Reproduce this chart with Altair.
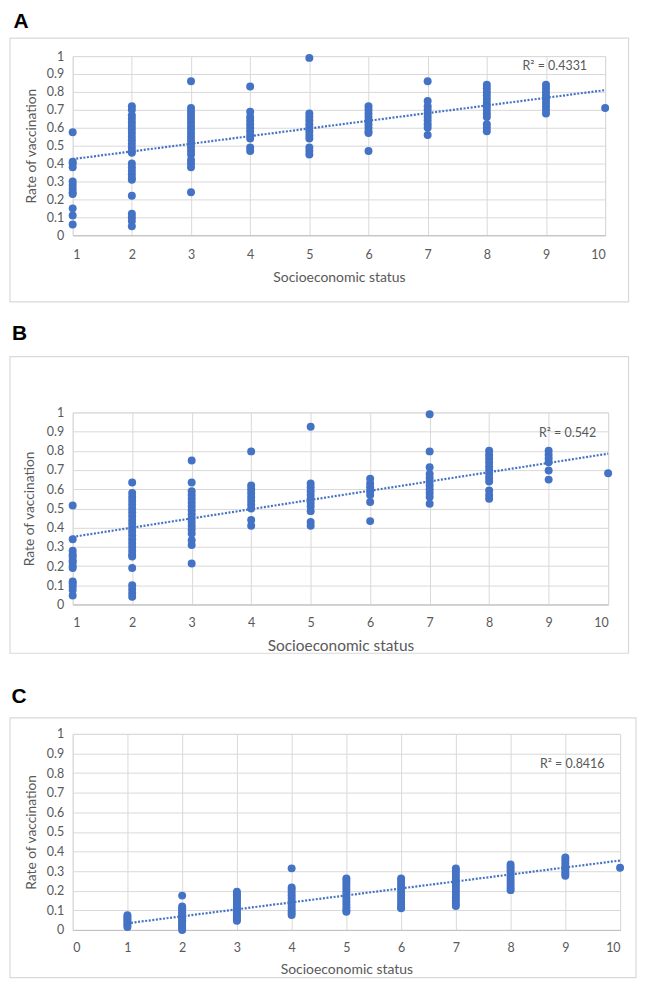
import altair as alt
import pandas as pd

# ---------------- data ----------------
y_ticks = [0, 0.1, 0.2, 0.3, 0.4, 0.5, 0.6, 0.7, 0.8, 0.9, 1]
x_ticks_ab = [1, 2, 3, 4, 5, 6, 7, 8, 9, 10]
x_ticks_c = [0, 1, 2, 3, 4, 5, 6, 7, 8, 9, 10]

a_rates = {
    1: [0.575, 0.41, 0.40, 0.38, 0.30, 0.28, 0.26, 0.24, 0.23, 0.15, 0.11, 0.06],
    2: [0.72, 0.70, 0.67, 0.65, 0.63, 0.61, 0.59, 0.57, 0.55, 0.53, 0.51, 0.49, 0.47,
        0.46, 0.40, 0.38, 0.36, 0.34, 0.32, 0.31, 0.22, 0.12, 0.10, 0.08, 0.05],
    3: [0.86, 0.71, 0.69, 0.67, 0.65, 0.63, 0.61, 0.59, 0.57, 0.55, 0.53, 0.51, 0.49,
        0.47, 0.45, 0.42, 0.40, 0.38, 0.24],
    4: [0.83, 0.69, 0.66, 0.64, 0.62, 0.60, 0.58, 0.56, 0.54, 0.49, 0.47],
    5: [0.99, 0.68, 0.66, 0.64, 0.62, 0.60, 0.58, 0.56, 0.54, 0.49, 0.47, 0.45],
    6: [0.72, 0.70, 0.68, 0.66, 0.64, 0.62, 0.60, 0.58, 0.57, 0.47],
    7: [0.86, 0.75, 0.72, 0.70, 0.68, 0.66, 0.64, 0.62, 0.60, 0.56],
    8: [0.84, 0.82, 0.80, 0.78, 0.76, 0.74, 0.72, 0.70, 0.68, 0.66, 0.62, 0.60, 0.58],
    9: [0.84, 0.82, 0.80, 0.78, 0.76, 0.74, 0.72, 0.70, 0.68],
    10: [0.71],
}
b_rates = {
    1: [0.515, 0.34, 0.28, 0.26, 0.25, 0.23, 0.22, 0.20, 0.19, 0.12, 0.11, 0.095, 0.075, 0.047],
    2: [0.635, 0.58, 0.56, 0.54, 0.52, 0.50, 0.48, 0.46, 0.44, 0.42, 0.40, 0.38, 0.36,
        0.34, 0.32, 0.30, 0.28, 0.26, 0.25, 0.19, 0.10, 0.08, 0.06, 0.04],
    3: [0.75, 0.635, 0.59, 0.57, 0.55, 0.53, 0.51, 0.49, 0.47, 0.45, 0.43, 0.41, 0.39,
        0.37, 0.335, 0.31, 0.213],
    4: [0.797, 0.62, 0.60, 0.58, 0.56, 0.54, 0.52, 0.50, 0.44, 0.41],
    5: [0.925, 0.63, 0.61, 0.59, 0.57, 0.55, 0.53, 0.51, 0.486, 0.43, 0.41],
    6: [0.654, 0.63, 0.61, 0.59, 0.57, 0.533, 0.434],
    7: [0.99, 0.797, 0.714, 0.68, 0.66, 0.64, 0.62, 0.60, 0.58, 0.56, 0.524],
    8: [0.80, 0.78, 0.76, 0.74, 0.72, 0.70, 0.68, 0.66, 0.64, 0.593, 0.57, 0.55],
    9: [0.80, 0.78, 0.76, 0.74, 0.697, 0.65],
    10: [0.683],
}
c_rates = {
    1: [0.075, 0.065, 0.055, 0.045, 0.035, 0.025, 0.015],
    2: [0.175, 0.12, 0.11, 0.10, 0.09, 0.08, 0.07, 0.06, 0.05, 0.04, 0.03, 0.02, 0.01, 0.0],
    3: [0.195, 0.185, 0.175, 0.165, 0.155, 0.145, 0.135, 0.125, 0.115, 0.105, 0.095,
        0.085, 0.075, 0.065, 0.055, 0.047],
    4: [0.314, 0.217, 0.205, 0.19, 0.175, 0.16, 0.145, 0.13, 0.115, 0.10, 0.088, 0.076],
    5: [0.263, 0.25, 0.235, 0.22, 0.205, 0.19, 0.175, 0.16, 0.145, 0.13, 0.115, 0.10, 0.093],
    6: [0.263, 0.25, 0.235, 0.22, 0.205, 0.19, 0.175, 0.16, 0.145, 0.13, 0.115, 0.11],
    7: [0.314, 0.30, 0.285, 0.27, 0.255, 0.24, 0.225, 0.21, 0.195, 0.18, 0.165, 0.15,
        0.135, 0.122],
    8: [0.334, 0.32, 0.305, 0.29, 0.275, 0.26, 0.245, 0.23, 0.215, 0.203],
    9: [0.37, 0.355, 0.34, 0.325, 0.31, 0.295, 0.285, 0.276],
    10: [0.317],
}

# linear trend lines (end points)
trend_ses = [1, 10]
a_trend = [0.425, 0.81]
b_trend = [0.352, 0.785]
c_trend = [0.034, 0.354]

r2_labels = ["R\u00b2 = 0.4331", "R\u00b2 = 0.542", "R\u00b2 = 0.8416"]
panel_letters = ["A", "B", "C"]

# ---------------- styling ----------------
BLUE = "#4472C4"
GRID = "#d9d9d9"
TEXT = "#595959"
FONT = "Lato"


def to_frame(rates):
    ses, rate = [], []
    for k, vals in rates.items():
        for v in vals:
            ses.append(k)
            rate.append(v)
    return pd.DataFrame({"ses": ses, "rate": rate})


def panel(rates, trend, r2, letter, xdom, xticks, width, height,
          rect, letter_xy, r2_xy, xlab_off, xtitle_off, xtitle_size,
          ytitle_x, spacer_y=None):
    pts = to_frame(rates)
    tdf = pd.DataFrame({"ses": trend_ses, "rate": trend})
    one = pd.DataFrame({"k": [0]})

    x_enc = alt.X(
        "ses:Q",
        scale=alt.Scale(domain=xdom, nice=False, zero=False),
        axis=alt.Axis(
            values=xticks, tickCount=len(xticks), format="d", title="Socioeconomic status",
            grid=True, gridColor=GRID, domain=True, domainColor="#bfbfbf",
            ticks=False, tickSize=0, labelPadding=xlab_off, labelBaseline="middle",
            labelOverlap=False,
            labelFont=FONT, labelFontSize=12.5, labelColor=TEXT,
            titleFont=FONT, titleFontSize=xtitle_size, titleFontWeight="normal",
            titleColor=TEXT, titleY=xtitle_off, titleBaseline="middle",
            titleX=width / 2, titleAlign="center",
        ),
    )
    y_enc = alt.Y(
        "rate:Q",
        scale=alt.Scale(domain=[0, 1], nice=False, zero=False),
        axis=alt.Axis(
            values=y_ticks, tickCount=len(y_ticks), format="~g", title="Rate of vaccination",
            grid=True, gridColor=GRID, domain=False,
            ticks=False, tickSize=0, labelPadding=9, labelOverlap=False,
            labelFont=FONT, labelFontSize=12.5, labelColor=TEXT,
            titleFont=FONT, titleFontSize=13.8, titleFontWeight="normal",
            titleColor=TEXT, titleX=ytitle_x, titleY=height / 2,
            titleBaseline="middle", titleAlign="center", titleAngle=270,
        ),
    )

    box = alt.Chart(one).mark_rect(fillOpacity=0, stroke=GRID, strokeWidth=1.2).encode(
        x=alt.value(rect[0]), x2=alt.value(rect[1]),
        y=alt.value(rect[2]), y2=alt.value(rect[3]),
    )
    points = alt.Chart(pts).mark_circle(size=64, color=BLUE, opacity=1).encode(
        x=x_enc, y=y_enc
    )
    line = alt.Chart(tdf).mark_line(
        color=BLUE, strokeWidth=2.2, strokeDash=[2, 1.6]
    ).encode(x="ses:Q", y="rate:Q")
    r2_text = alt.Chart(one).mark_text(
        align="left", baseline="middle", font=FONT, fontSize=12.5, color=TEXT
    ).encode(x=alt.value(r2_xy[0]), y=alt.value(r2_xy[1]), text=alt.value(r2))
    letter_text = alt.Chart(one).mark_text(
        align="left", baseline="alphabetic", font="Liberation Sans",
        fontSize=21, fontWeight="bold", color="#000000"
    ).encode(x=alt.value(letter_xy[0]), y=alt.value(letter_xy[1]), text=alt.value(letter))

    layers = [box, points, line, r2_text, letter_text]
    if spacer_y is not None:
        spacer = alt.Chart(one).mark_rule(strokeOpacity=0, strokeWidth=0.1).encode(
            x=alt.value(10), x2=alt.value(11),
            y=alt.value(spacer_y), y2=alt.value(spacer_y),
        )
        layers.append(spacer)
    return alt.layer(*layers).properties(width=width, height=height)


pA = panel(a_rates, a_trend, r2_labels[0], panel_letters[0], [1, 10], x_ticks_ab,
           535, 180, rect=[-63, 558.5, -18, 247], letter_xy=[-59.5, -28],
           r2_xy=[452, 10], xlab_off=19, xtitle_off=42, xtitle_size=14,
           ytitle_x=-41.5)
pB = panel(b_rates, b_trend, r2_labels[1], panel_letters[1], [1, 10], x_ticks_ab,
           538, 193, rect=[-63, 558.5, -56, 242], letter_xy=[-61, -73],
           r2_xy=[468.5, 21], xlab_off=18, xtitle_off=41, xtitle_size=15.5,
           ytitle_x=-43.5, spacer_y=-108)
pC = panel(c_rates, c_trend, r2_labels[2], panel_letters[2], [0, 10], x_ticks_c,
           550, 197, rect=[-63, 566, -16, 245], letter_xy=[-61.5, -31],
           r2_xy=[469.5, 30], xlab_off=18, xtitle_off=40, xtitle_size=14,
           ytitle_x=-41.5, spacer_y=-78)

chart = alt.vconcat(pA, pB, pC, spacing=0).properties(
    padding=0
).configure_view(stroke="transparent").configure(background="white")

chart.save("out.html", embed_options={"renderer": "svg", "actions": False})
